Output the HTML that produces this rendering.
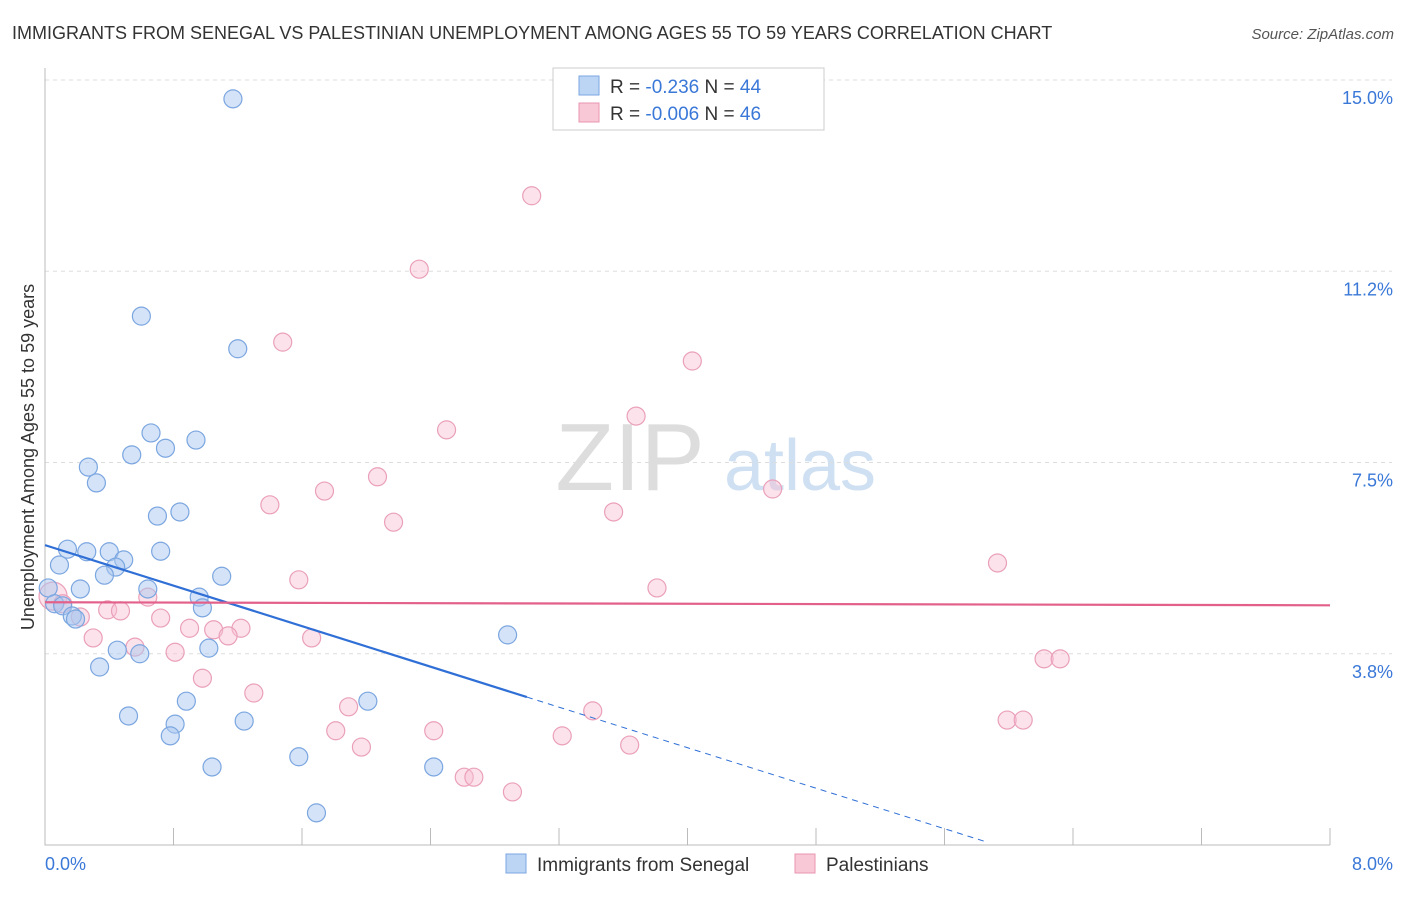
<!DOCTYPE html>
<html><head><meta charset="utf-8"><style>
body{margin:0;background:#fff;font-family:"Liberation Sans",sans-serif;}
svg text{font-family:"Liberation Sans",sans-serif;}
</style></head><body>
<svg id="chart" width="1406" height="892">
<text x="12" y="39" font-size="18" fill="#333">IMMIGRANTS FROM SENEGAL VS PALESTINIAN UNEMPLOYMENT AMONG AGES 55 TO 59 YEARS CORRELATION CHART</text>
<text x="1394" y="39" font-size="15" fill="#555" text-anchor="end" font-style="italic">Source: ZipAtlas.com</text>
<text x="630" y="490" font-size="96" fill="#ddd" font-family="Liberation Serif" text-anchor="middle">ZIP</text>
<text x="800" y="490" font-size="72" fill="#cfe0f3" text-anchor="middle">atlas</text>
<g id="grid"></g><g id="axes"></g><g id="marks"></g>
<text transform="translate(34,457) rotate(-90)" font-size="18" fill="#333" text-anchor="middle">Unemployment Among Ages 55 to 59 years</text>
<g>
<rect x="553" y="68" width="271" height="62" fill="#fff" stroke="#ccc"/>
<rect x="579" y="76" width="20" height="19" fill="#bcd5f5" stroke="#7ba6e0"/>
<text x="610" y="93" font-size="19" fill="#333">R = <tspan fill="#3a78d8">-0.236</tspan>   N = <tspan fill="#3a78d8">44</tspan></text>
<rect x="579" y="103" width="20" height="19" fill="#f8c8d6" stroke="#e896b0"/>
<text x="610" y="120" font-size="19" fill="#333">R = <tspan fill="#3a78d8">-0.006</tspan>   N = <tspan fill="#3a78d8">46</tspan></text>
</g>
<g>
<rect x="506" y="854" width="20" height="19" fill="#bcd5f5" stroke="#7ba6e0"/>
<text x="537" y="871" font-size="19" fill="#333">Immigrants from Senegal</text>
<rect x="795" y="854" width="20" height="19" fill="#f8c8d6" stroke="#e896b0"/>
<text x="826" y="871" font-size="19" fill="#333">Palestinians</text>
</g>
</svg>
<script>
const yTicks=[15.0,11.25,7.5,3.75];
const yTickLabels=["15.0%","11.2%","7.5%","3.8%"];
const xTickCount=10;
const xMax=8, yMax=15;
const blueX=[1.17,0.60,1.20,0.66,0.94,0.75,0.54,0.27,0.32,0.70,0.84,0.14,0.26,0.40,0.72,0.49,0.09,0.44,0.37,1.10,0.22,0.64,0.02,0.96,0.06,0.98,0.11,0.17,0.19,2.88,0.45,0.59,1.02,0.34,0.88,2.01,0.52,1.24,0.81,0.78,1.58,1.04,2.42,1.69];
const blueY=[14.63,10.37,9.73,8.08,7.94,7.78,7.65,7.41,7.10,6.45,6.53,5.80,5.75,5.75,5.76,5.59,5.49,5.45,5.29,5.27,5.02,5.02,5.04,4.86,4.73,4.65,4.69,4.49,4.43,4.12,3.82,3.75,3.86,3.49,2.82,2.82,2.53,2.43,2.37,2.14,1.73,1.53,1.53,0.63];
const pinkX=[3.03,2.33,1.48,4.03,3.68,2.50,2.07,1.74,4.53,1.40,3.54,2.17,5.93,1.58,3.81,0.05,0.64,0.11,0.39,0.47,0.22,0.72,0.90,1.05,1.22,1.14,0.30,1.66,0.56,0.81,6.22,6.32,0.98,1.30,1.89,3.41,5.99,6.09,1.81,2.42,3.22,1.97,3.64,2.61,2.67,2.91];
const pinkY=[12.73,11.29,9.86,9.49,8.41,8.14,7.22,6.94,6.98,6.67,6.53,6.33,5.53,5.20,5.04,4.88,4.86,4.73,4.61,4.59,4.47,4.45,4.25,4.22,4.25,4.10,4.06,4.06,3.88,3.78,3.65,3.65,3.27,2.98,2.71,2.63,2.45,2.45,2.24,2.24,2.14,1.92,1.96,1.33,1.33,1.04];
const blueTrend=[5.88,-0.993]; // intercept, slope
const pinkTrend=[4.76,-0.0075];
const blueSolidEnd=3.0, blueDashEnd=5.85;
const NS="http://www.w3.org/2000/svg";
const X=v=>45+v/xMax*1285, Y=v=>845-v/yMax*765;
function mk(tag,attrs,parent){const e=document.createElementNS(NS,tag);for(const k in attrs)e.setAttribute(k,attrs[k]);document.getElementById(parent).appendChild(e);return e;}
yTicks.forEach((t,i)=>{
 const l=mk('line',{x1:45,x2:1392,y1:Y(t),y2:Y(t),stroke:'#ddd','stroke-dasharray':'4,4'},'grid');
 
 
 const tx=mk('text',{x:1393,y:Y(t)+24,'font-size':18,fill:'#3a78d8','text-anchor':'end'},'grid');tx.textContent=yTickLabels[i];
 
 
});
const ax=mk('path',{d:'M45,68V845H1330',stroke:'#bbb',fill:'none'},'axes');


for(let i=0;i<=xTickCount;i++){const x=X(i*xMax/xTickCount);const t=mk('line',{x1:x,x2:x,y1:828,y2:845,stroke:'#bbb'},'axes');
 
 }
const x0=mk('text',{x:45,y:870,'font-size':18,fill:'#3a78d8'},'axes');x0.textContent='0.0%';


const x1=mk('text',{x:1393,y:870,'font-size':18,fill:'#3a78d8','text-anchor':'end'},'axes');x1.textContent='8.0%';


function pts(xs,ys,fill,stroke,name){xs.forEach((v,i)=>{const r=(name==='pink-point'&&i===15)?14:9;
 const c=mk('circle',{cx:X(v),cy:Y(ys[i]),r:r,fill:fill,stroke:stroke,'stroke-width':1.2},'marks');
 
 });}
pts(pinkX,pinkY,'rgba(248,190,210,0.45)','#eaa0ba','pink-point');
pts(blueX,blueY,'rgba(170,200,240,0.5)','#7ba6e0','blue-point');
const bt=x=>blueTrend[0]+blueTrend[1]*x, pt=x=>pinkTrend[0]+pinkTrend[1]*x;
const b1=mk('line',{x1:X(0),y1:Y(bt(0)),x2:X(blueSolidEnd),y2:Y(bt(blueSolidEnd)),stroke:'#2f6fd6','stroke-width':2.2},'marks');


const b2=mk('line',{x1:X(blueSolidEnd),y1:Y(bt(blueSolidEnd)),x2:X(blueDashEnd),y2:Y(bt(blueDashEnd)),stroke:'#2f6fd6','stroke-width':1,'stroke-dasharray':'6,5'},'marks');


const p1=mk('line',{x1:X(0),y1:Y(pt(0)),x2:X(xMax),y2:Y(pt(xMax)),stroke:'#e2608a','stroke-width':2.2},'marks');


</script>
</body></html>
